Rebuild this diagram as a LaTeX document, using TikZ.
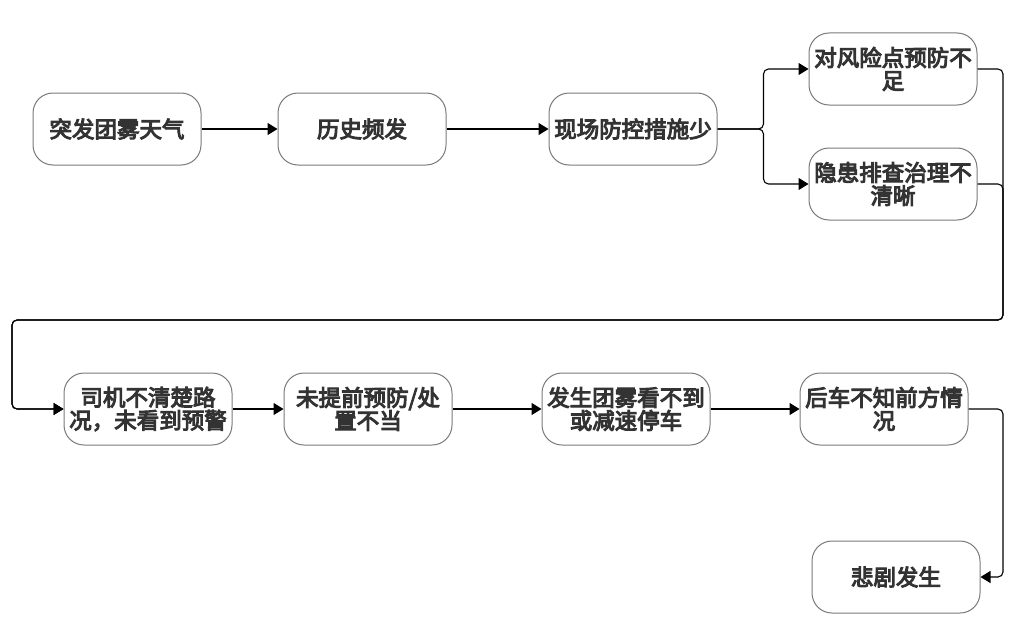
\documentclass[tikz,border=0pt]{standalone}
\usepackage{fontspec}
\setmainfont{Noto Sans CJK SC}
\newfontfamily\cjkbold{Noto Sans CJK SC}[FakeBold=4.5]
\usetikzlibrary{arrows.meta}
\definecolor{txt}{HTML}{333333}
\definecolor{bord}{HTML}{7A7A7A}
\begin{document}
\begin{tikzpicture}[x=1pt,y=-1pt,
  box/.style={draw=bord, line width=1pt, rounded corners=20pt, fill=white,
    minimum width=168pt, minimum height=72pt, inner sep=0pt, align=center,
    text=txt, font=\cjkbold\fontsize{22.5}{23}\selectfont},
  arr/.style={line width=1.1pt, -{Triangle[length=10pt,width=12pt]}, rounded corners=5pt}]
\useasboundingbox (0,0) rectangle (1030,626);
\node[box] (n1) at (117,129) {突发团雾天气};
\node[box] (n2) at (362,129) {历史频发};
\node[box] (n3) at (633,129) {现场防控措施少};
\node[box] (n4) at (893,69) {对风险点预防不\\足};
\node[box] (n5) at (893,184) {隐患排查治理不\\清晰};
\node[box] (n6) at (148,409) {司机不清楚路\\况，未看到预警};
\node[box] (n7) at (368,409) {未提前预防/处\\置不当};
\node[box] (n8) at (626,409) {发生团雾看不到\\或减速停车};
\node[box] (n9) at (884,409) {后车不知前方情\\况};
\node[box] (n10) at (896,577) {悲剧发生};
\coordinate (c1) at (1003,320);
\coordinate (c2) at (12,320);
\coordinate (c3) at (1003,577);
\draw[arr] (n1) -- (n2);
\draw[arr] (n2) -- (n3);
\draw[arr] (n3.east) -- ++(46,0) |- (n4.west);
\draw[arr] (n3.east) -- ++(46,0) |- (n5.west);
\draw[arr] (n4.east) -| (c1) -- (c2) |- (n6.west);
\draw[arr] (n5.east) -| (c1) -- (c2) |- (n6.west);
\draw[arr] (n6) -- (n7);
\draw[arr] (n7) -- (n8);
\draw[arr] (n8) -- (n9);
\draw[arr] (n9.east) -| (c3) -- (n10.east);
\end{tikzpicture}
\end{document}
